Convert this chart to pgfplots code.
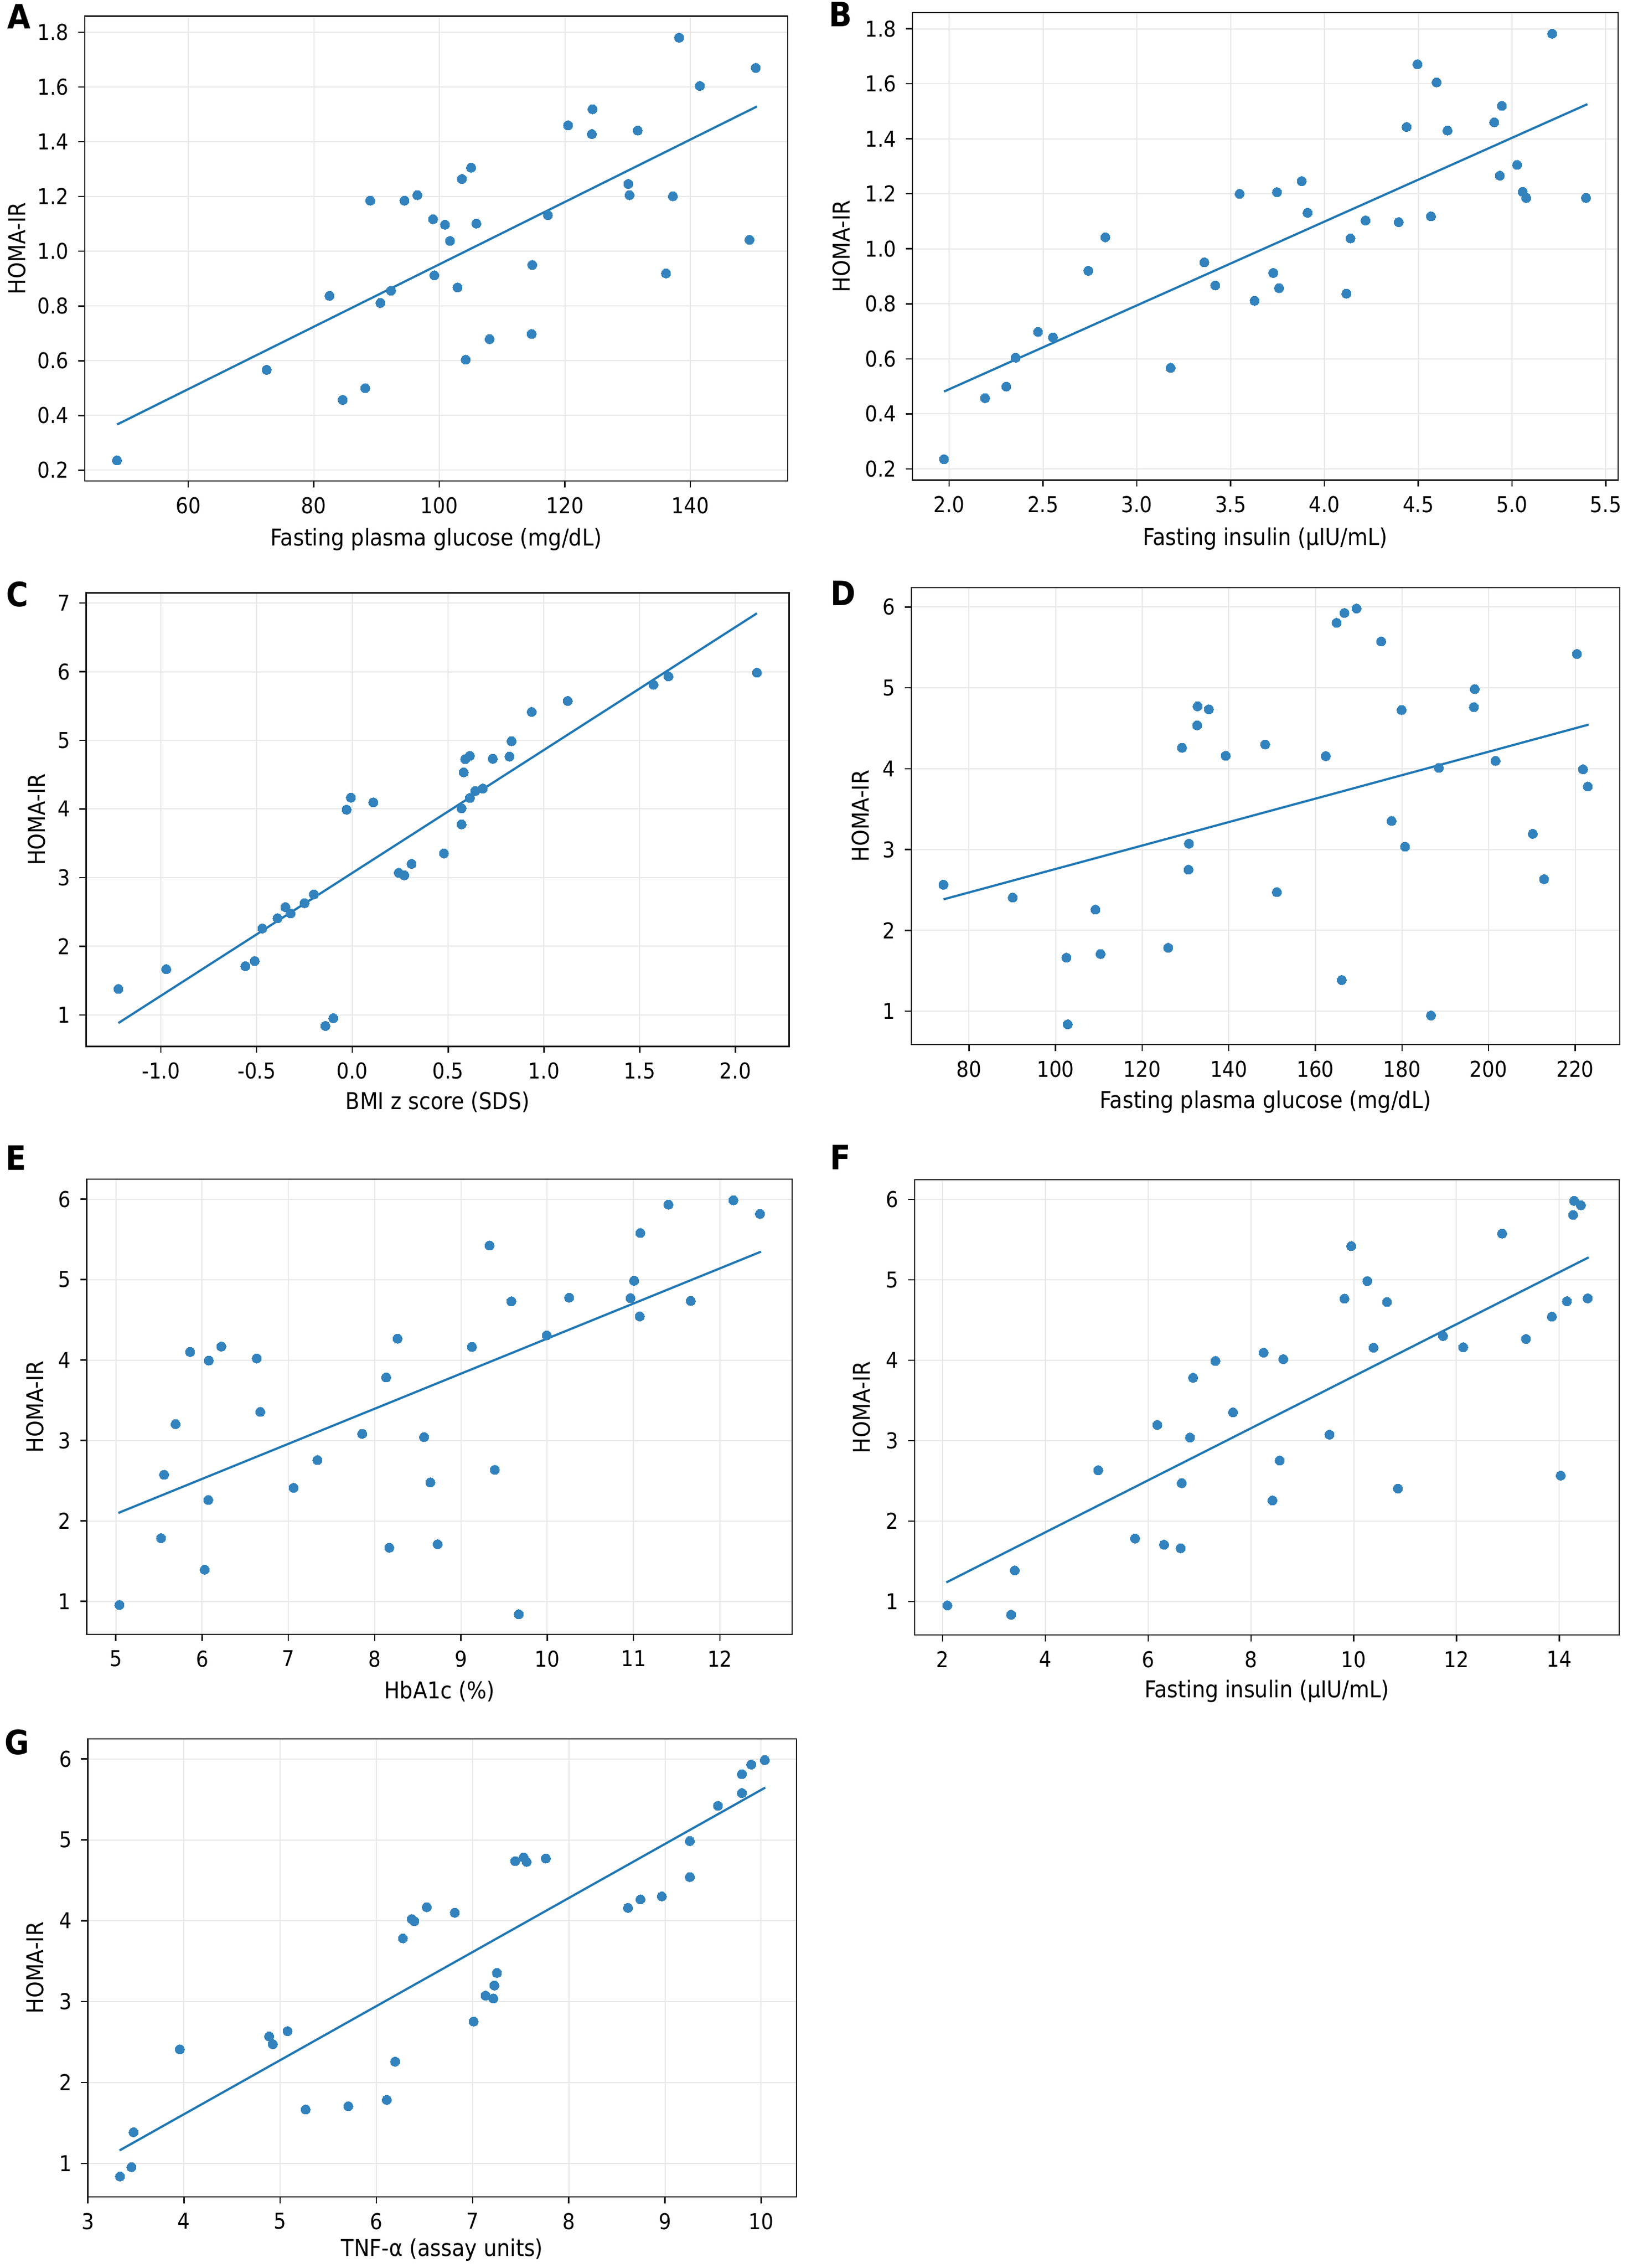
\documentclass[border=0pt]{standalone}
\usepackage{fontspec}
\setmainfont{DejaVu Sans Condensed}
\usepackage{pgfplots}
\pgfplotsset{compat=1.18}
\definecolor{ptc}{RGB}{49,130,189}
\definecolor{lnc}{RGB}{31,119,180}
\pgfplotsset{
  panel/.style={
    scale only axis, anchor=south west,
    axis line style={black!90, line width=0.55bp},
    tick pos=left, tick align=outside, major tick length=2.4bp,
    tick style={black!90, line width=0.5bp},
    grid=major, major grid style={color=gray!18, line width=0.4bp},
    tick label style={font=\fontsize{8}{9}\selectfont},
    label style={font=\fontsize{8.5}{10}\selectfont},
    ylabel={HOMA-IR},
    clip=false,
  },
  pts/.style={only marks, mark=*, mark size=1.7bp, color=ptc, mark options={solid, fill=ptc, draw=ptc, line width=0pt}},
  fit/.style={no marks, line width=0.8bp, color=lnc},
}
\newcommand{\plab}[3]{\node[anchor=base west, inner sep=0pt, font=\fontsize{12.3}{13}\bfseries\selectfont] at (#1bp,#2bp) {#3};}
\begin{document}
\begin{tikzpicture}
\path[use as bounding box] (0,0) rectangle (595.2bp,829bp);
% ---------- A ----------
\begin{axis}[panel, at={(31.0bp,653.2bp)}, width=257bp, height=169.9bp,
  xmin=43.52, xmax=155.5, ymin=0.161, ymax=1.859,
  xtick={60,80,100,120,140}, xticklabels={60,80,100,120,140},
  ytick={0.2,0.4,0.6,0.8,1.0,1.2,1.4,1.6,1.8}, yticklabels={0.2,0.4,0.6,0.8,1.0,1.2,1.4,1.6,1.8},
  xlabel={Fasting plasma glucose (mg/dL)},
  ylabel style={at={(axis description cs:-0.0962,0.5)}, anchor=center},
  xlabel style={at={(axis description cs:0.5,-0.1253)}, anchor=center}]
\addplot[pts] table {
48.65 0.236
72.5 0.567
82.5 0.837
84.6 0.457
88.2 0.500
89.0 1.185
90.6 0.811
92.3 0.856
94.45 1.185
96.5 1.205
99.0 1.117
99.2 0.912
100.9 1.097
101.7 1.038
102.9 0.868
103.6 1.264
104.2 0.604
105.05 1.305
105.9 1.101
108.0 0.679
114.7 0.698
114.8 0.950
117.3 1.132
120.5 1.460
124.3 1.428
124.4 1.519
130.1 1.246
130.3 1.205
131.6 1.441
136.1 0.919
137.2 1.201
138.2 1.780
141.5 1.604
149.4 1.042
150.4 1.670
};
\addplot[fit] coordinates {(48.65,0.367) (150.6,1.529)};
\end{axis}
% ---------- B ----------
\begin{axis}[panel, at={(333.6bp,653.5bp)}, width=258bp, height=170.9bp,
  xmin=1.804, xmax=5.566, ymin=0.159, ymax=1.859,
  xtick={2.0,2.5,3.0,3.5,4.0,4.5,5.0,5.5}, xticklabels={2.0,2.5,3.0,3.5,4.0,4.5,5.0,5.5},
  ytick={0.2,0.4,0.6,0.8,1.0,1.2,1.4,1.6,1.8}, yticklabels={0.2,0.4,0.6,0.8,1.0,1.2,1.4,1.6,1.8},
  xlabel={Fasting insulin (µIU/mL)},
  ylabel style={at={(axis description cs:-0.1005,0.5)}, anchor=center},
  xlabel style={at={(axis description cs:0.5,-0.1261)}, anchor=center}]
\addplot[pts] table {
1.972 0.235
2.191 0.457
2.304 0.499
2.354 0.604
2.473 0.698
2.553 0.678
2.741 0.920
2.832 1.042
3.180 0.567
3.360 0.951
3.418 0.867
3.548 1.200
3.628 0.811
3.727 0.912
3.747 1.206
3.758 0.857
3.879 1.246
3.910 1.131
4.117 0.837
4.139 1.038
4.219 1.103
4.396 1.097
4.438 1.443
4.496 1.671
4.568 1.118
4.598 1.605
4.656 1.430
4.905 1.460
4.935 1.266
4.946 1.520
5.027 1.305
5.057 1.207
5.076 1.185
5.214 1.782
5.394 1.185
};
\addplot[fit] coordinates {(1.972,0.481) (5.402,1.526)};
\end{axis}
% ---------- C ----------
\begin{axis}[panel, at={(31.5bp,446.5bp)}, width=257bp, height=165.8bp,
  xmin=-1.390, xmax=2.280, ymin=0.540, ymax=7.149,
  xtick={-1.0,-0.5,0.0,0.5,1.0,1.5,2.0}, xticklabels={-1.0,-0.5,0.0,0.5,1.0,1.5,2.0},
  ytick={1,2,3,4,5,6,7}, yticklabels={1,2,3,4,5,6,7},
  xlabel={BMI z score (SDS)},
  ylabel style={at={(axis description cs:-0.0702,0.5)}, anchor=center},
  xlabel style={at={(axis description cs:0.5,-0.1225)}, anchor=center}]
\addplot[pts] table {
-1.2215 1.378
-0.972 1.666
-0.559 1.709
-0.510 1.784
-0.470 2.259
-0.391 2.408
-0.350 2.569
-0.323 2.478
-0.250 2.627
-0.201 2.755
-0.141 0.839
-0.100 0.951
-0.030 3.989
-0.008 4.165
0.109 4.096
0.242 3.070
0.271 3.033
0.309 3.199
0.478 3.353
0.570 3.775
0.570 4.010
0.581 4.533
0.589 4.726
0.613 4.774
0.613 4.160
0.641 4.261
0.681 4.298
0.733 4.731
0.820 4.763
0.831 4.987
0.936 5.414
1.124 5.574
1.572 5.809
1.650 5.932
2.112 5.986
};
\addplot[fit] coordinates {(-1.2215,0.881) (2.112,6.851)};
\end{axis}
% ---------- D ----------
\begin{axis}[panel, at={(333.2bp,447.2bp)}, width=259bp, height=167.0bp,
  xmin=66.7, xmax=230.3, ymin=0.587, ymax=6.240,
  xtick={80,100,120,140,160,180,200,220}, xticklabels={80,100,120,140,160,180,200,220},
  ytick={1,2,3,4,5,6}, yticklabels={1,2,3,4,5,6},
  xlabel={Fasting plasma glucose (mg/dL)},
  ylabel style={at={(axis description cs:-0.0715,0.5)}, anchor=center},
  xlabel style={at={(axis description cs:0.5,-0.1258)}, anchor=center}]
\addplot[pts] table {
74.1 2.564
90.1 2.405
102.5 1.662
102.8 0.837
109.2 2.256
110.4 1.707
126.0 1.784
129.2 4.259
130.7 2.750
130.8 3.072
132.7 4.536
132.8 4.772
135.4 4.735
139.3 4.160
148.4 4.300
151.1 2.473
162.4 4.155
164.9 5.805
166.1 1.385
166.7 5.927
169.5 5.982
175.2 5.574
177.6 3.353
179.9 4.726
180.7 3.035
186.7 0.946
188.5 4.010
196.6 4.762
196.8 4.985
201.6 4.096
210.2 3.194
212.8 2.632
220.4 5.420
221.8 3.992
222.9 3.779
};
\addplot[fit] coordinates {(74.1,2.383) (223.1,4.545)};
\end{axis}
% ---------- E ----------
\begin{axis}[panel, at={(31.7bp,231.6bp)}, width=257.9bp, height=166.4bp,
  xmin=4.663, xmax=12.837, ymin=0.589, ymax=6.250,
  xtick={5,6,7,8,9,10,11,12}, xticklabels={5,6,7,8,9,10,11,12},
  ytick={1,2,3,4,5,6}, yticklabels={1,2,3,4,5,6},
  xlabel={HbA1c (\%)},
  ylabel style={at={(axis description cs:-0.0730,0.5)}, anchor=center},
  xlabel style={at={(axis description cs:0.5,-0.125)}, anchor=center}]
\addplot[pts] table {
5.042 0.955
5.524 1.786
5.560 2.573
5.693 3.203
5.861 4.101
6.030 1.393
6.072 2.260
6.078 3.994
6.223 4.168
6.633 4.021
6.675 3.355
7.060 2.412
7.337 2.756
7.855 3.082
8.133 3.784
8.169 1.666
8.265 4.266
8.572 3.042
8.645 2.479
8.729 1.710
9.127 4.164
9.331 5.424
9.392 2.635
9.584 4.731
9.669 0.839
9.994 4.307
10.253 4.776
10.964 4.771
11.006 4.986
11.072 4.543
11.078 5.580
11.404 5.933
11.663 4.735
12.157 5.987
12.464 5.817
};
\addplot[fit] coordinates {(5.030,2.099) (12.476,5.348)};
\end{axis}
% ---------- F ----------
\begin{axis}[panel, at={(334.4bp,231.4bp)}, width=257.6bp, height=166.4bp,
  xmin=1.455, xmax=15.168, ymin=0.584, ymax=6.246,
  xtick={2,4,6,8,10,12,14}, xticklabels={2,4,6,8,10,12,14},
  ytick={1,2,3,4,5,6}, yticklabels={1,2,3,4,5,6},
  xlabel={Fasting insulin (µIU/mL)},
  ylabel style={at={(axis description cs:-0.0751,0.5)}, anchor=center},
  xlabel style={at={(axis description cs:0.5,-0.124)}, anchor=center}]
\addplot[pts] table {
2.091 0.951
3.332 0.835
3.403 1.385
5.027 2.632
5.744 1.783
6.178 3.196
6.309 1.707
6.632 1.662
6.652 2.471
6.813 3.039
6.874 3.782
7.308 3.992
7.651 3.352
8.246 4.095
8.418 2.257
8.559 2.753
8.630 4.014
9.528 3.075
9.820 4.766
9.952 5.419
10.264 4.985
10.386 4.157
10.648 4.725
10.860 2.404
11.738 4.301
12.131 4.162
12.888 5.575
13.352 4.265
13.857 4.542
14.028 2.565
14.149 4.734
14.270 5.808
14.291 5.982
14.422 5.928
14.553 4.770
};
\addplot[fit] coordinates {(2.071,1.237) (14.573,5.280)};
\end{axis}
% ---------- G ----------
\begin{axis}[panel, at={(32.1bp,26.0bp)}, width=259.1bp, height=167.4bp,
  xmin=3.0, xmax=10.368, ymin=0.587, ymax=6.248,
  xtick={3,4,5,6,7,8,9,10}, xticklabels={3,4,5,6,7,8,9,10},
  ytick={1,2,3,4,5,6}, yticklabels={1,2,3,4,5,6},
  xlabel={TNF-α (assay units)},
  ylabel style={at={(axis description cs:-0.0741,0.5)}, anchor=center},
  xlabel style={at={(axis description cs:0.5,-0.116)}, anchor=center}]
\addplot[pts] table {
3.335 0.839
3.454 0.954
3.476 1.386
3.957 2.410
4.886 2.570
4.924 2.474
5.076 2.635
5.265 1.666
5.708 1.707
6.108 1.785
6.195 2.258
6.276 3.782
6.368 4.021
6.395 3.994
6.524 4.168
6.816 4.099
7.011 2.754
7.135 3.075
7.216 3.039
7.227 3.199
7.254 3.355
7.443 4.737
7.530 4.783
7.562 4.728
7.762 4.770
8.616 4.159
8.746 4.264
8.968 4.301
9.259 4.540
9.259 4.985
9.551 5.421
9.800 5.578
9.800 5.812
9.897 5.931
10.038 5.986
};
\addplot[fit] coordinates {(3.330,1.161) (10.043,5.646)};
\end{axis}
% panel letters
\plab{2.6}{818.4}{A}
\plab{302.8}{819.2}{B}
\plab{2.2}{607.2}{C}
\plab{303.4}{607.6}{D}
\plab{1.9}{401.2}{E}
\plab{303.2}{401.4}{F}
\plab{1.5}{187.6}{G}
\end{tikzpicture}
\end{document}
